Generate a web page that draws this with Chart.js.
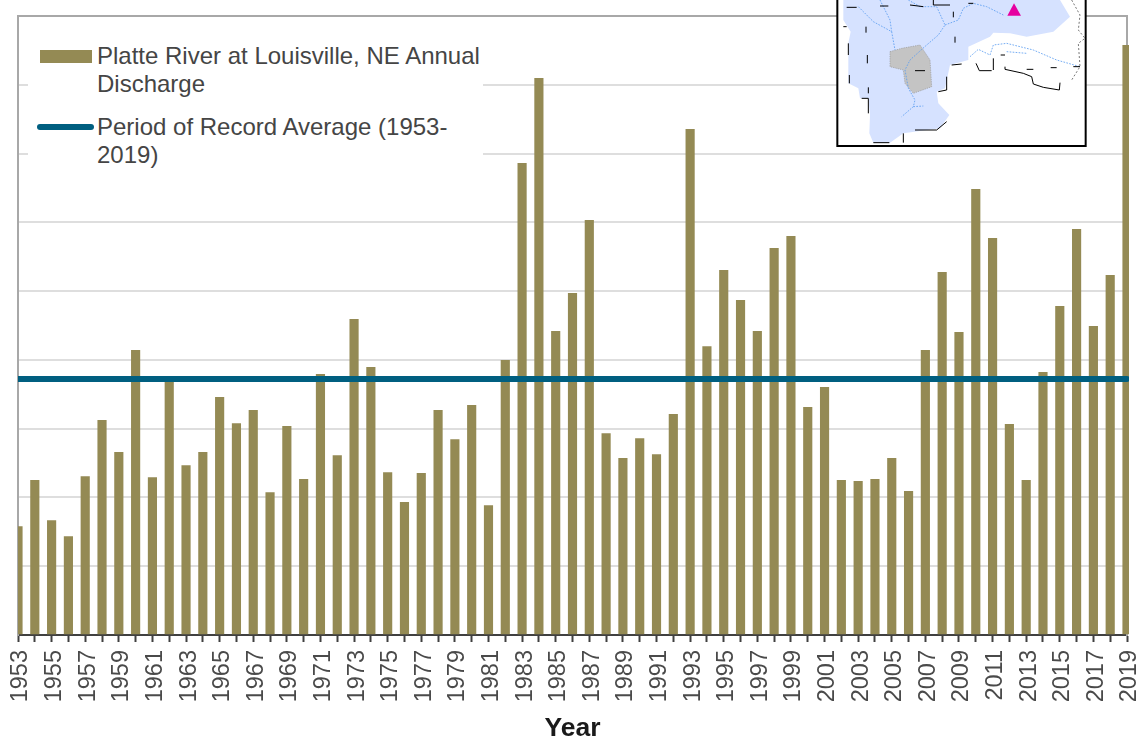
<!DOCTYPE html>
<html>
<head>
<meta charset="utf-8">
<title>Platte River at Louisville, NE Annual Discharge</title>
<script src="https://cdn.jsdelivr.net/npm/chart.js@4"></script>
<style>
html,body{margin:0;padding:0;background:#fff;overflow:hidden}
#box{position:relative;width:1142px;height:738px;font-family:"Liberation Sans",Arial,sans-serif}
#legenda{position:absolute;left:28px;top:38px;width:455px;height:134px;background:#fff}
.txt{position:absolute;left:69px;width:386px;font-size:24px;line-height:28px;color:#454545}
.sw{position:absolute}
#mapa{position:absolute;left:830px;top:0;width:312px;height:160px}
</style>
</head>
<body>
<div id="box">
  <canvas id="grafico" width="1142" height="738"></canvas>
  <div id="legenda">
    <div class="sw" style="left:12px;top:12px;width:52px;height:13px;background:#948a54"></div>
    <div class="txt" id="nomeBarras" style="top:4px"></div>
    <div class="sw" style="left:9px;top:86px;width:57px;height:6px;border-radius:3px;background:#005f80"></div>
    <div class="txt" id="nomeLinha" style="top:75px"></div>
  </div>
  <svg id="mapa" viewBox="0 0 936 480">
    <rect x="22" y="-10" width="745" height="448" fill="#fff" stroke="#000" stroke-width="6"/>
    <path d="M40 0L40 60L62 95L55 130L55 250L85 265L90 295L115 295L120 345L118 400L130 428L180 428L220 400L330 385L358 345L325 310L320 275L345 265L360 195L415 180L415 140L480 110L490 98L540 100L590 110L670 95L720 50L690 0Z" fill="#d6e2ff"/>
    <path d="M180 155L215 145L270 135L300 180L305 260L250 280L225 250L220 210L180 200Z" fill="#c4c4c4" stroke="#999" stroke-width="2" stroke-dasharray="4 3"/>
    <g fill="none" stroke="#5a9cf0" stroke-width="2.5" stroke-dasharray="5 4">
      <path d="M85 20L130 65L185 95L195 150"/>
      <path d="M150 0L180 60L185 95"/>
      <path d="M235 0L270 20L320 20L345 75L325 105L290 135L240 180L225 210L235 265L255 300L250 320L215 350"/>
      <path d="M345 75L385 60L400 25L430 10L470 20L520 45"/>
      <path d="M250 320L280 318"/>
      <path d="M420 170L445 148L480 165L490 135L530 130L610 150L680 180L750 200"/>
      <path d="M530 155L590 160"/>
    </g>
    <g fill="none" stroke="#000" stroke-width="3">
      <path d="M310 0L310 15L360 15M415 10L430 10M50 22L80 22M150 18L175 18M240 15L280 20"/>
      <path d="M40 80L50 80M108 80L108 98M55 130L55 165M112 165L112 190M58 225L58 250M115 262L115 280"/>
      <path d="M95 295L115 295L115 340M220 400L220 428M130 428L178 428M255 390L320 390L350 365"/>
      <path d="M350 230L350 270L325 275M365 195L395 192M375 110L375 128M370 35L370 52"/>
      <path d="M438 190L448 212L485 212M490 175L490 210M512 165L525 165"/>
      <path d="M525 200L525 208L580 220L605 230L610 252L640 262L688 270L690 248"/>
      <path d="M590 208L610 208M662 203L680 203M730 200L750 200M255 212L285 212"/>
    </g>
    <path d="M725 0L750 45L745 90L765 115L745 130L750 200L725 240" fill="none" stroke="#333" stroke-width="2" stroke-dasharray="6 6"/>
    <path d="M532 47L552 10L573 47Z" fill="#e600a0"/>
  </svg>
</div>
<script>
// Dados (vazao media anual, escala estimada)
const anos=[1953,1954,1955,1956,1957,1958,1959,1960,1961,1962,1963,1964,1965,1966,1967,1968,1969,1970,1971,1972,1973,1974,1975,1976,1977,1978,1979,1980,1981,1982,1983,1984,1985,1986,1987,1988,1989,1990,1991,1992,1993,1994,1995,1996,1997,1998,1999,2000,2001,2002,2003,2004,2005,2006,2007,2008,2009,2010,2011,2012,2013,2014,2015,2016,2017,2018,2019];
const descarga=[3155,4495,3330,2865,4610,6240,5310,8275,4580,7405,4930,5310,6910,6150,6530,4145,6065,4525,7580,5220,9180,7780,4725,3855,4700,6530,5685,6675,3765,7985,13715,16190,8830,9935,12060,5860,5135,5715,5250,6415,14705,8390,10605,9730,8830,11245,11590,6620,7200,4495,4465,4525,5135,4175,8275,10545,8800,12960,11535,6125,4495,7635,9555,11795,8975,10460,17150];
const mediaPeriodo=7447;
const nomeBarras='Platte River at Louisville, NE Annual Discharge';
const nomeLinha='Period of Record Average (1953-2019)';
const tituloX='Year';

document.getElementById('nomeBarras').textContent=nomeBarras;
document.getElementById('nomeLinha').textContent=nomeLinha;

const corteDir={left:0,top:0,right:2,bottom:0};

new Chart(document.getElementById('grafico'),{
  type:'bar',
  data:{
    labels:anos.map(String),
    datasets:[
      {type:'line',label:nomeLinha,data:anos.map(()=>mediaPeriodo),borderColor:'#005f80',borderWidth:6,pointRadius:0,order:1,borderCapStyle:'round',clip:corteDir},
      {label:nomeBarras,data:descarga,backgroundColor:'#948a54',barThickness:8.5,order:2,clip:corteDir}
    ]
  },
  options:{
    responsive:true,
    maintainAspectRatio:false,
    animation:false,
    layout:{padding:{left:18,right:15,top:16,bottom:0}},
    plugins:{legend:{display:false},tooltip:{enabled:false}},
    scales:{
      x:{
        offset:false,
        border:{color:'#404040',width:2},
        grid:{offset:false,drawOnChartArea:false,drawTicks:true,tickLength:7,tickColor:'#404040',tickWidth:2},
        ticks:{
          autoSkip:false,minRotation:90,maxRotation:90,padding:8,labelOffset:3,color:'#4a4a4a',
          font:{family:'"Liberation Sans", Arial, sans-serif',size:23.5},
          callback:(v,i)=>i%2===0?anos[i]:''
        },
        title:{display:true,text:tituloX,color:'#1a1a1a',font:{family:'"Liberation Sans", Arial, sans-serif',size:26.5,weight:'bold',lineHeight:0.7},padding:{top:0,bottom:0}},
        afterFit:s=>{s.height=103;s.paddingLeft=0;s.paddingRight=0;}
      },
      y:{
        min:0,max:18000,
        border:{color:'#a8a8a8',width:2},
        grid:{drawTicks:false,lineWidth:2,color:c=>c.tick.value===18000?'#a8a8a8':'#dedede'},
        ticks:{display:false,stepSize:2000},
        afterFit:s=>{s.width=0;}
      },
      y1:{
        position:'right',min:0,max:18000,
        border:{color:'#a8a8a8',width:2},
        grid:{drawOnChartArea:false,drawTicks:false},
        ticks:{display:false},
        afterFit:s=>{s.width=0;}
      }
    }
  }
});
</script>
</body>
</html>
